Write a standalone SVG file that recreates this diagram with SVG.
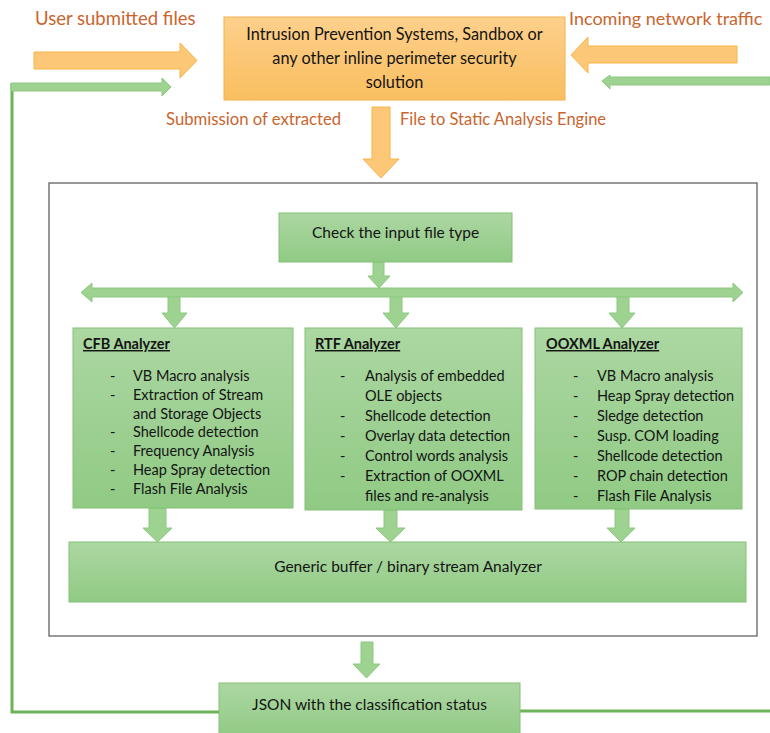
<svg xmlns="http://www.w3.org/2000/svg" width="770" height="733" viewBox="0 0 770 733">
<defs>
<linearGradient id="gGreen" x1="0" y1="0" x2="0" y2="1">
<stop offset="0" stop-color="#acd7a2"/>
<stop offset="1" stop-color="#90ca84"/>
</linearGradient>
<linearGradient id="gOrange" x1="0" y1="0" x2="0" y2="1">
<stop offset="0" stop-color="#fdd08c"/>
<stop offset="1" stop-color="#f9be5f"/>
</linearGradient>
</defs>
<style>
.gbox{fill:url(#gGreen);stroke:#84c177;stroke-width:1}
.obox{fill:url(#gOrange);stroke:#f6b24c;stroke-width:1}
.garrow{fill:#9dd291;stroke:#8cc880;stroke-width:1}
.oarrow{fill:#fcc877;stroke:#f8b447;stroke-width:1}
.line{fill:none;stroke:#6db357;stroke-width:3}
.frame{fill:none;stroke:#555;stroke-width:1.2}
text{font-family:Lato,"Open Sans","Liberation Sans",sans-serif;fill:#141414}
.lbl{font-size:18.5px;fill:#c9652f}
.main{font-size:16.3px}
.item{font-size:14.5px}
.ttl{font-size:14.5px;font-weight:bold;text-decoration:underline}
</style>

<rect class="frame" x="49" y="183" width="708" height="453"/>

<g id="connectors">
<polygon class="oarrow" points="34,52 180,52 180,43 197,60.5 180,78 180,69 34,69"/>
<polygon class="oarrow" points="737,46 588,46 588,37 571,55 588,73 588,63 737,63"/>
<polygon class="oarrow" points="372,107 390,107 390,159 399,159 381,178 363,159 372,159"/>
<polyline class="line" points="219,712 12,712 12,83"/>
<line class="line" x1="520" y1="711" x2="770" y2="711"/>
<polygon class="garrow" points="11,83 162,83 162,78 171,87 162,96 162,91 11,91"/>
<polygon class="garrow" points="770,77 610,77 610,75 602,81 610,89 610,85 770,85"/>
<polygon class="garrow" points="373,262 384,262 384,276 390,276 379,288 368,276 373,276"/>
<polygon class="garrow" points="81,292.5 92,283 92,288 733,288 733,283 743,292.5 733,302 733,297 92,297 92,302"/>
<polygon class="garrow" points="168,297 180,297 180,313 187,313 174.5,328 162,313 168,313"/>
<polygon class="garrow" points="390,297 402,297 402,313 409,313 396,328 383,313 390,313"/>
<polygon class="garrow" points="617,297 629,297 629,313 635,313 622,328 609,313 617,313"/>
<polygon class="garrow" points="149,508 166,508 166,528 172,528 157.5,542 143,528 149,528"/>
<polygon class="garrow" points="384,510 397,510 397,528 405,528 390.5,542 376,528 384,528"/>
<polygon class="garrow" points="615,509 629,509 629,528 635,528 621,542 607,528 615,528"/>
<polygon class="garrow" points="361,642 373,642 373,664 380,664 366.5,678 353,664 361,664"/>
</g>

<g id="label-user">
<text class="lbl" x="35" y="25">User submitted files</text>
</g>
<g id="label-incoming">
<text class="lbl" x="569" y="25" style="font-size:18px">Incoming network traffic</text>
</g>
<g id="label-submission">
<text class="lbl" x="166" y="125" style="font-size:16.7px">Submission of extracted</text>
<text class="lbl" x="400" y="125" style="font-size:16.5px">File to Static Analysis Engine</text>
</g>

<g id="ips">
<rect class="obox" x="224" y="17" width="341" height="83"/>
<text class="main" x="394.5" y="40" text-anchor="middle">Intrusion Prevention Systems, Sandbox or</text>
<text class="main" x="394.5" y="64" text-anchor="middle">any other inline perimeter security</text>
<text class="main" x="394.5" y="88" text-anchor="middle">solution</text>
</g>

<g id="check">
<rect class="gbox" x="279" y="213" width="233" height="49"/>
<text class="main" x="312" y="238" style="font-size:15.5px">Check the input file type</text>
</g>

<g id="cfb">
<rect class="gbox" x="73" y="328" width="220" height="180"/>
<text class="ttl" x="83" y="349">CFB Analyzer</text>
<text class="item" x="110" y="381">-</text><text class="item" x="133" y="381">VB Macro analysis</text>
<text class="item" x="110" y="400">-</text><text class="item" x="133" y="400">Extraction of Stream</text>
<text class="item" x="133" y="419">and Storage Objects</text>
<text class="item" x="110" y="437">-</text><text class="item" x="133" y="437">Shellcode detection</text>
<text class="item" x="110" y="456">-</text><text class="item" x="133" y="456">Frequency Analysis</text>
<text class="item" x="110" y="475">-</text><text class="item" x="133" y="475">Heap Spray detection</text>
<text class="item" x="110" y="494">-</text><text class="item" x="133" y="494">Flash File Analysis</text>
</g>

<g id="rtf">
<rect class="gbox" x="305" y="328" width="217" height="182"/>
<text class="ttl" x="315" y="349">RTF Analyzer</text>
<text class="item" x="340" y="381">-</text><text class="item" x="365" y="381">Analysis of embedded</text>
<text class="item" x="365" y="401">OLE objects</text>
<text class="item" x="340" y="421">-</text><text class="item" x="365" y="421">Shellcode detection</text>
<text class="item" x="340" y="441">-</text><text class="item" x="365" y="441">Overlay data detection</text>
<text class="item" x="340" y="461">-</text><text class="item" x="365" y="461">Control words analysis</text>
<text class="item" x="340" y="481">-</text><text class="item" x="365" y="481">Extraction of OOXML</text>
<text class="item" x="365" y="501">files and re-analysis</text>
</g>

<g id="ooxml">
<rect class="gbox" x="535" y="328" width="207" height="181"/>
<text class="ttl" x="546" y="349">OOXML Analyzer</text>
<text class="item" x="573" y="381">-</text><text class="item" x="597" y="381">VB Macro analysis</text>
<text class="item" x="573" y="401">-</text><text class="item" x="597" y="401">Heap Spray detection</text>
<text class="item" x="573" y="421">-</text><text class="item" x="597" y="421">Sledge detection</text>
<text class="item" x="573" y="441">-</text><text class="item" x="597" y="441">Susp. COM loading</text>
<text class="item" x="573" y="461">-</text><text class="item" x="597" y="461">Shellcode detection</text>
<text class="item" x="573" y="481">-</text><text class="item" x="597" y="481">ROP chain detection</text>
<text class="item" x="573" y="501">-</text><text class="item" x="597" y="501">Flash File Analysis</text>
</g>

<g id="generic">
<rect class="gbox" x="69" y="542" width="677" height="60"/>
<text class="main" x="408" y="572" text-anchor="middle" style="font-size:15.5px">Generic buffer / binary stream Analyzer</text>
</g>

<g id="json">
<rect class="gbox" x="219" y="683" width="301" height="55"/>
<text class="main" x="369.5" y="710" text-anchor="middle" style="font-size:15.5px">JSON with the classification status</text>
</g>
</svg>
